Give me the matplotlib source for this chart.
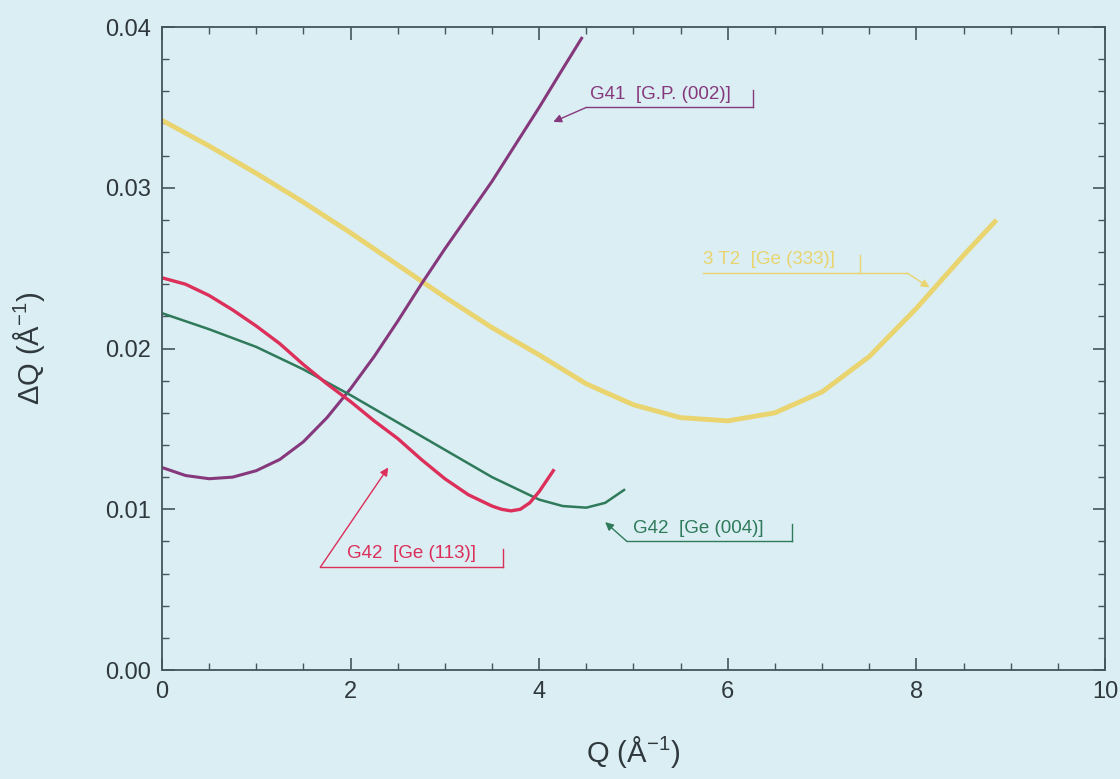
import matplotlib
matplotlib.use("Agg")
import matplotlib.pyplot as plt
from matplotlib.ticker import MultipleLocator

# Q (1/Angstrom) and resolution dQ (1/Angstrom) for each analyser setting
q_g41 = [0.0, 0.25, 0.5, 0.75, 1.0, 1.25, 1.5, 1.75, 2.0, 2.25, 2.5, 2.75,
         3.0, 3.25, 3.5, 3.75, 4.0, 4.25, 4.45]
dq_g41 = [0.0126, 0.0121, 0.0119, 0.0120, 0.0124, 0.0131, 0.0142, 0.0157,
          0.0175, 0.0195, 0.0217, 0.0240, 0.0262, 0.0283, 0.0304, 0.0327,
          0.0350, 0.0374, 0.0393]

q_3t2 = [0.0, 0.5, 1.0, 1.5, 2.0, 2.5, 3.0, 3.5, 4.0, 4.5, 5.0, 5.5, 6.0,
         6.5, 7.0, 7.5, 8.0, 8.5, 8.85]
dq_3t2 = [0.0342, 0.0326, 0.0309, 0.0291, 0.0272, 0.0252, 0.0232, 0.0213,
          0.0196, 0.0178, 0.0165, 0.0157, 0.0155, 0.0160, 0.0173, 0.0195,
          0.0225, 0.0258, 0.0280]

q_g42_113 = [0.0, 0.25, 0.5, 0.75, 1.0, 1.25, 1.5, 1.75, 2.0, 2.25, 2.5,
             2.75, 3.0, 3.25, 3.5, 3.6, 3.7, 3.8, 3.9, 4.0, 4.15]
dq_g42_113 = [0.0244, 0.0240, 0.0233, 0.0224, 0.0214, 0.0203, 0.0190,
              0.0178, 0.0167, 0.0155, 0.0144, 0.0131, 0.0119, 0.0109,
              0.0102, 0.0100, 0.0099, 0.0100, 0.0104, 0.0111, 0.0124]

q_g42_004 = [0.0, 0.5, 1.0, 1.5, 2.0, 2.5, 3.0, 3.5, 4.0, 4.25, 4.5, 4.7, 4.9]
dq_g42_004 = [0.0222, 0.0212, 0.0201, 0.0187, 0.0171, 0.0154, 0.0137,
              0.0120, 0.0106, 0.0102, 0.0101, 0.0104, 0.0112]

BG = "#daeef3"
C_G41 = "#86387c"
C_3T2 = "#e9d470"
C_113 = "#dc2f5a"
C_004 = "#2f7a5a"
INK = "#2f383d"

plt.rcParams["font.family"] = ["Liberation Sans", "DejaVu Sans"]
plt.rcParams["mathtext.fontset"] = "custom"
plt.rcParams["mathtext.rm"] = "Liberation Sans"
plt.rcParams["mathtext.it"] = "Liberation Sans"

fig = plt.figure(figsize=(11.2, 7.79), dpi=100, facecolor=BG)
ax = fig.add_axes([0.1446, 0.1399, 0.842, 0.8254], facecolor=BG)

ax.plot(q_3t2, dq_3t2, color=C_3T2, lw=3.5, solid_capstyle="butt")
ax.plot(q_g41, dq_g41, color=C_G41, lw=2.2)
ax.plot(q_g42_004, dq_g42_004, color=C_004, lw=1.8)
ax.plot(q_g42_113, dq_g42_113, color=C_113, lw=2.4)


def callout(text, color, tx, uy, x0, x1, xbar, start, tip):
    # label sitting on an underline, closed by a short bar, with a leader arrow
    ax.text(tx, uy + 0.0003, text, color=color, fontsize=13.5,
            va="bottom", ha="left")
    ax.plot([x0, x1], [uy, uy], color=color, lw=1.0)
    ax.plot([xbar, xbar], [uy, uy + 0.0011], color=color, lw=1.0)
    ax.annotate("", xy=tip, xytext=start,
                arrowprops=dict(arrowstyle="-|>", color=color, lw=1.0,
                                mutation_scale=12, shrinkA=0, shrinkB=0))


callout("G41  [G.P. (002)]", C_G41, 4.54, 0.0350, 4.50, 6.27, 6.27,
        (4.50, 0.0350), (4.15, 0.0341))
callout("3 T2  [Ge (333)]", C_3T2, 5.74, 0.0247, 5.74, 7.90, 7.40,
        (7.90, 0.0247), (8.14, 0.0238))
callout("G42  [Ge (113)]", C_113, 1.96, 0.0064, 1.68, 3.62, 3.62,
        (1.68, 0.0064), (2.40, 0.0126))
callout("G42  [Ge (004)]", C_004, 4.99, 0.0080, 4.93, 6.68, 6.68,
        (4.93, 0.0080), (4.70, 0.0092))

ax.set_xlim(0, 10)
ax.set_ylim(0, 0.04)
ax.xaxis.set_major_locator(MultipleLocator(2))
ax.xaxis.set_minor_locator(MultipleLocator(0.5))
ax.yaxis.set_major_locator(MultipleLocator(0.01))
ax.yaxis.set_minor_locator(MultipleLocator(0.002))
ax.yaxis.set_major_formatter(lambda v, p: f"{v:.2f}")

edge = "#45555c"
for s in ax.spines.values():
    s.set_color(edge)
    s.set_linewidth(1.3)
ax.tick_params(which="both", direction="in", top=True, right=True,
               color=edge, labelcolor=INK)
ax.tick_params(which="major", length=9, width=1.2, labelsize=17, pad=8)
ax.tick_params(which="minor", length=5, width=1.0)

ax.set_xlabel("Q (Å$^{-1}$)", fontsize=21, color=INK, labelpad=22)
ax.set_ylabel("ΔQ (Å$^{-1}$)", fontsize=21, color=INK, labelpad=42)

fig.savefig("out.png", dpi=100, facecolor=BG)
